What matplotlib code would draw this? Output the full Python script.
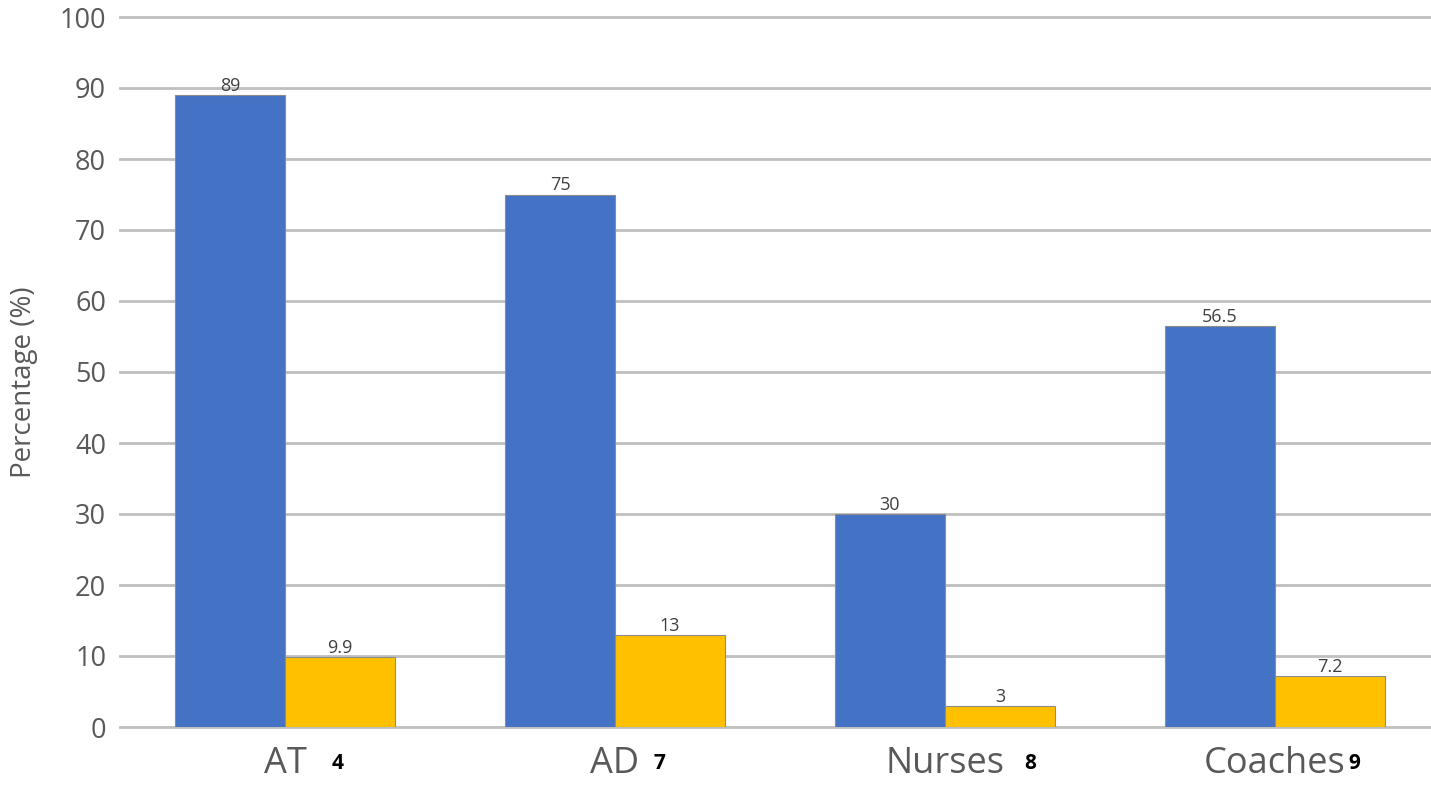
import matplotlib.pyplot as plt
import numpy as np

categories = ['AT', 'AD', 'Nurses', 'Coaches']
refs = ['4', '7', '8', '9']
blue_vals = [89, 75, 30, 56.5]
yellow_vals = [9.9, 13, 3, 7.2]
blue_labels = ['89', '75', '30', '56.5']
yellow_labels = ['9.9', '13', '3', '7.2']
yticks = np.arange(0, 101, 10)

plt.rcParams['font.family'] = ['Open Sans', 'DejaVu Sans']

fig = plt.figure(figsize=(14.31, 7.86), dpi=100)
ax = fig.add_axes([120 / 1431, 59 / 786, 1320 / 1431, 710 / 786])

x = np.arange(len(categories))
w = 1 / 3
b1 = ax.bar(x - w / 2, blue_vals, w, color='#4472C4', edgecolor='#8c8c8c', linewidth=0.8, zorder=3)
b2 = ax.bar(x + w / 2, yellow_vals, w, color='#FFC000', edgecolor='#8c8c8c', linewidth=0.8, zorder=3)

ax.bar_label(b1, labels=blue_labels, padding=0, fontsize=13, color='#404040')
ax.bar_label(b2, labels=yellow_labels, padding=0, fontsize=13, color='#404040')

ax.set_xlim(-0.5, 3.5)
ax.set_ylim(0, 100)
ax.set_yticks(yticks)
ax.grid(axis='y', color='#bfbfbf', linewidth=2, zorder=0)
for gl in ax.get_ygridlines():
    gl.set_clip_on(False)
for s in ax.spines.values():
    s.set_visible(False)

ax.set_xticks(x)
ax.set_xticklabels(categories, fontsize=26, color='#595959')
ax.tick_params(axis='x', length=0, pad=14)
ax.tick_params(axis='y', length=0, pad=10, labelsize=19.5, labelcolor='#595959')
ax.set_ylabel('Percentage (%)', fontsize=20, color='#595959')
ax.yaxis.set_label_coords(-0.062, 0.486)

# superscript reference numbers next to the category names
offsets = [0.158, 0.136, 0.258, 0.24]
for xi, r, off in zip(x, refs, offsets):
    ax.text(xi + off, -5.1, r, fontsize=15, fontweight='bold', color='black',
            ha='center', va='center', clip_on=False)

fig.savefig('out.png', dpi=100)
